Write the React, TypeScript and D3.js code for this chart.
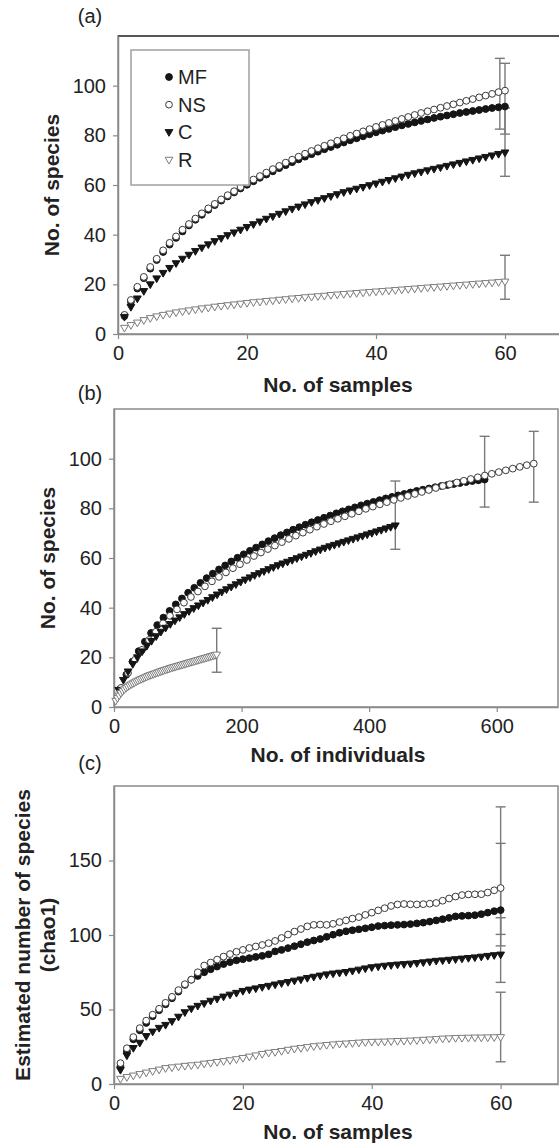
import { useEffect, useRef } from "react";
import * as d3 from "d3";

// ---- data ----
const SERIES = ["MF", "NS", "C", "R"];
const SAMPLES = d3.range(1, 61);
// total individuals per habitat (panel b end points)
const TOTAL_INDIVIDUALS = [581, 658, 441, 161];

// observed species (sample-based rarefaction), samples 1..60
const MF_OBS = [
  7.2, 13, 18.3, 22.5, 26.3, 29.8, 33, 36, 38.7, 41.3,
  43.7, 46, 48, 50, 51.9, 53.7, 55.4, 57, 58.6, 60.1,
  61.5, 62.9, 64.2, 65.5, 66.8, 68, 69.2, 70.3, 71.4, 72.4,
  73.4, 74.4, 75.3, 76.2, 77.1, 78, 78.8, 79.6, 80.4, 81.2,
  81.9, 82.6, 83.3, 84, 84.6, 85.2, 85.8, 86.4, 87, 87.5,
  88, 88.5, 89, 89.4, 89.8, 90.2, 90.6, 91, 91.3, 91.6,
];
const NS_OBS = [
  7.7, 13.7, 19, 23, 27, 30.3, 33.7, 36.7, 39.3, 42,
  44.3, 46.5, 48.6, 50.6, 52.4, 54.2, 55.9, 57.5, 59.2, 60.8,
  62.2, 63.6, 65, 66.4, 67.7, 69, 70.2, 71.4, 72.6, 73.7,
  74.8, 75.8, 76.8, 77.8, 78.8, 79.8, 80.7, 81.6, 82.5, 83.4,
  84.2, 85, 85.8, 86.6, 87.4, 88.2, 89, 89.7, 90.4, 91.1,
  91.8, 92.5, 93.2, 93.9, 94.6, 95.3, 96, 96.7, 97.4, 98,
];
const C_OBS = [
  6.8, 10.8, 14.2, 17.2, 19.9, 22.3, 24.5, 26.5, 28.4, 30.2,
  31.8, 33.3, 34.7, 36, 37.3, 38.5, 39.7, 40.8, 41.9, 43,
  44.1, 45.2, 46.3, 47.3, 48.3, 49.3, 50.3, 51.2, 52.1, 53,
  53.8, 54.6, 55.4, 56.2, 57, 57.7, 58.4, 59.1, 59.8, 60.5,
  61.2, 61.9, 62.6, 63.3, 64, 64.6, 65.2, 65.8, 66.4, 67,
  67.6, 68.2, 68.8, 69.4, 70, 70.6, 71.2, 71.8, 72.4, 73,
];
const R_OBS = [
  2.4, 3.5, 4.5, 5.5, 6.3, 7, 7.6, 8.1, 8.6, 9,
  9.4, 9.8, 10.2, 10.5, 10.9, 11.2, 11.5, 11.8, 12.1, 12.4,
  12.7, 12.9, 13.2, 13.4, 13.7, 13.9, 14.2, 14.4, 14.7, 14.9,
  15.1, 15.3, 15.6, 15.8, 16, 16.2, 16.4, 16.6, 16.8, 17,
  17.2, 17.4, 17.6, 17.8, 18, 18.2, 18.4, 18.6, 18.8, 19,
  19.2, 19.4, 19.6, 19.8, 20, 20.2, 20.4, 20.6, 20.8, 21,
];

// chao1 estimates, samples 1..60
const MF_CHAO = [
  12, 22, 30, 36, 41, 45.5, 49.5, 53.5, 57.5, 62,
  66.5, 70, 72.5, 75, 77, 78.8, 80.5, 81.8, 83, 83.8,
  84.5, 85.3, 86, 87, 89, 90, 91.2, 92.5, 93.8, 95.2,
  96.3, 97.3, 98.8, 100.2, 101.5, 102.5, 103.2, 103.8, 104.5, 105.2,
  106, 106.3, 106.6, 106.8, 107, 107.3, 107.8, 108.3, 109, 109.8,
  110.6, 111.5, 112.5, 112.8, 113, 113.3, 114, 115, 116, 116.7,
];
const NS_CHAO = [
  14, 24, 31.5, 37.5, 42.5, 46.5, 50.5, 54.5, 58.5, 63,
  67, 70, 75, 79.5, 81.5, 83.5, 85.5, 87.2, 88.7, 90,
  91.3, 92.3, 93.3, 94.5, 96, 98, 100.3, 102.3, 104, 105.8,
  106.8, 107, 106.8, 107.5, 108.7, 109.8, 111, 112, 113.5, 115,
  116.5, 118, 119.5, 120.5, 120.8, 120.6, 120.5, 120.7, 121, 121.5,
  123, 124.5, 125.8, 126.8, 127.2, 127.3, 127.4, 128.5, 130, 131.5,
];
const C_CHAO = [
  9.3, 19, 24, 27.5, 32, 35, 37.5, 39.5, 42, 45,
  48, 50.5, 52.3, 54, 55.7, 57, 58.5, 59.8, 61, 62.3,
  63.2, 64, 64.9, 65.7, 66.6, 67.5, 68.3, 69.2, 70, 71,
  71.8, 72.6, 73.4, 74, 74.5, 75, 75.8, 76.6, 77.4, 78.2,
  78.7, 79.2, 79.6, 80, 80.3, 80.6, 81, 81.5, 82, 82.5,
  82.8, 83.2, 83.6, 84, 84.4, 84.8, 85.3, 85.8, 86.3, 86.7,
];
const R_CHAO = [
  3.3, 4.5, 5.5, 6.5, 7.5, 8.5, 9.5, 10.5, 11, 11.5,
  12, 12.4, 12.8, 13.5, 14, 14.6, 15.2, 15.8, 16.5, 17.3,
  18.2, 19, 20, 20.8, 21.3, 22, 22.8, 23.5, 24, 24.6,
  25.2, 25.6, 26, 26.4, 26.8, 27, 27.3, 27.6, 27.9, 28.1,
  28.2, 28.3, 28.5, 28.7, 28.8, 29, 29.2, 29.5, 29.7, 30,
  30.3, 30.5, 30.7, 30.8, 30.9, 31, 31, 31.1, 31.2, 31.3,
];

// error bars at the last sample (MF, NS, C, R)
const OBS_ERR_SAMPLE = [60, 59.2, 60, 60];
const OBS_ERR_LO = [80.5, 82.5, 63.5, 14];
const OBS_ERR_HI = [109, 111, 91, 31.7];
const CHAO_ERR_LO = [92.7, 100.4, 68.2, 14.9];
const CHAO_ERR_HI = [161.5, 186, 111.6, 61.6];

const X_TICKS_SAMPLES = [0, 20, 40, 60];
const X_TICKS_INDIVIDUALS = [0, 200, 400, 600];
const Y_TICKS_OBS = [0, 20, 40, 60, 80, 100];
const Y_TICKS_CHAO = [0, 50, 100, 150];

const FONT = '"Liberation Sans", Arial, Helvetica, sans-serif';
const AXIS = "#8a8a8a";
const STYLE = [
  { shape: "circle", fill: "#151515", stroke: "#151515" },
  { shape: "circle", fill: "#ffffff", stroke: "#3a3a3a" },
  { shape: "triangle", fill: "#151515", stroke: "#151515" },
  { shape: "triangle", fill: "#ffffff", stroke: "#7c7c7c" },
];

const triPath = d3.symbol().type(d3.symbolTriangle).size(26)();

function drawMarkers(g, pts, st) {
  if (st.shape === "circle") {
    g.selectAll(null)
      .data(pts)
      .join("circle")
      .attr("cx", (d) => d[0])
      .attr("cy", (d) => d[1])
      .attr("r", 3.4)
      .attr("fill", st.fill)
      .attr("stroke", st.stroke)
      .attr("stroke-width", 1);
  } else {
    g.selectAll(null)
      .data(pts)
      .join("path")
      .attr("d", triPath)
      .attr("transform", (d) => `translate(${d[0]},${d[1] - 0.5}) rotate(180)`)
      .attr("fill", st.fill)
      .attr("stroke", st.stroke)
      .attr("stroke-width", 1);
  }
}

function drawPanel(svg, p) {
  const g = svg.append("g");
  const x = d3.scaleLinear().domain(p.xDomain).range([p.box.left, p.box.right]);
  const y = d3.scaleLinear().domain(p.yDomain).range([p.box.bottom, p.box.top]);

  // frame
  g.append("rect")
    .attr("x", p.box.left)
    .attr("y", p.box.top)
    .attr("width", p.box.right - p.box.left)
    .attr("height", p.box.bottom - p.box.top)
    .attr("fill", "#fff")
    .attr("stroke", AXIS)
    .attr("stroke-width", 1.5);
  if (p.darkTop) {
    g.append("line")
      .attr("x1", p.box.left)
      .attr("x2", p.box.right)
      .attr("y1", p.box.top)
      .attr("y2", p.box.top)
      .attr("stroke", "#3c3c3c")
      .attr("stroke-width", 1.5);
  }

  // axes
  const yAxis = g
    .append("g")
    .attr("transform", `translate(${p.box.left},0)`)
    .call(d3.axisLeft(y).tickValues(p.yTicks).tickSize(5).tickSizeOuter(0).tickPadding(7));
  const xAxis = g
    .append("g")
    .attr("transform", `translate(0,${p.box.bottom})`)
    .call(d3.axisBottom(x).tickValues(p.xTicks).tickSize(5).tickSizeOuter(0).tickPadding(7));
  [xAxis, yAxis].forEach((a) => {
    a.attr("font-size", 20).attr("font-family", FONT);
    a.select(".domain").attr("stroke", AXIS).attr("stroke-width", 1.5);
    a.selectAll(".tick line").attr("stroke", AXIS).attr("stroke-width", 1.2);
    a.selectAll(".tick text").attr("fill", "#222");
  });

  // error bars
  const eb = g.append("g").attr("stroke", "#7a7a7a").attr("stroke-width", 1.4);
  p.err.forEach(([ex, lo, hi]) => {
    const cx = x(ex);
    eb.append("line").attr("x1", cx).attr("x2", cx).attr("y1", y(lo)).attr("y2", y(hi));
    [lo, hi].forEach((v) =>
      eb.append("line").attr("x1", cx - 5).attr("x2", cx + 5).attr("y1", y(v)).attr("y2", y(v))
    );
  });

  // series, Excel order: later series on top
  p.series.forEach((s, k) => {
    const pts = s.xs.map((xv, i) => [x(xv), y(s.ys[i])]);
    drawMarkers(g.append("g"), pts, STYLE[k]);
  });

  // labels
  g.append("text")
    .attr("x", 90)
    .attr("y", p.tagY)
    .attr("text-anchor", "middle")
    .attr("font-family", FONT)
    .attr("font-size", 20)
    .attr("fill", "#222")
    .text(p.tag);
  g.append("text")
    .attr("x", 338)
    .attr("y", p.xTitleY)
    .attr("text-anchor", "middle")
    .attr("font-family", FONT)
    .attr("font-size", 21)
    .attr("font-weight", "bold")
    .attr("fill", "#222")
    .text(p.xTitle);
  p.yTitle.forEach(([tx, txt]) => {
    g.append("text")
      .attr("transform", `translate(${tx},${p.yTitleCenter}) rotate(-90)`)
      .attr("text-anchor", "middle")
      .attr("font-family", FONT)
      .attr("font-size", 21)
      .attr("font-weight", "bold")
      .attr("fill", "#222")
      .text(txt);
  });
  return g;
}

export default function App() {
  const ref = useRef(null);

  useEffect(() => {
    const svg = d3.select(ref.current);
    svg.selectAll("*").remove();

    const obs = [MF_OBS, NS_OBS, C_OBS, R_OBS];
    const chao = [MF_CHAO, NS_CHAO, C_CHAO, R_CHAO];

    // (a) observed vs samples
    const a = drawPanel(svg, {
      box: { left: 118, top: 36, right: 569.5, bottom: 334 },
      xDomain: [0, 70],
      yDomain: [0, 120],
      xTicks: X_TICKS_SAMPLES,
      yTicks: Y_TICKS_OBS,
      darkTop: true,
      series: obs.map((ys) => ({ xs: SAMPLES, ys })),
      err: SERIES.map((_, k) => [OBS_ERR_SAMPLE[k], OBS_ERR_LO[k], OBS_ERR_HI[k]]),
      tag: "(a)",
      tagY: 23,
      xTitle: "No. of samples",
      xTitleY: 392,
      yTitle: [[59, "No. of species"]],
      yTitleCenter: 185,
    });

    // legend
    const lg = a.append("g");
    lg.append("rect")
      .attr("x", 131)
      .attr("y", 50)
      .attr("width", 118)
      .attr("height", 135)
      .attr("fill", "#fff")
      .attr("stroke", "#a0a0a0")
      .attr("stroke-width", 1.5);
    const ly = d3.scalePoint().domain(SERIES).range([77, 160]);
    SERIES.forEach((name, k) => {
      drawMarkers(lg.append("g"), [[169, ly(name)]], STYLE[k]);
      lg.append("text")
        .attr("x", 178)
        .attr("y", ly(name) + 7)
        .attr("font-family", FONT)
        .attr("font-size", 20)
        .attr("fill", "#222")
        .text(name);
    });

    // (b) observed vs individuals
    drawPanel(svg, {
      box: { left: 114, top: 409, right: 558, bottom: 707 },
      xDomain: [0, 696],
      yDomain: [0, 120],
      xTicks: X_TICKS_INDIVIDUALS,
      yTicks: Y_TICKS_OBS,
      series: obs.map((ys, k) => ({
        xs: SAMPLES.map((s) => (s * TOTAL_INDIVIDUALS[k]) / SAMPLES.length),
        ys,
      })),
      err: SERIES.map((_, k) => [TOTAL_INDIVIDUALS[k], OBS_ERR_LO[k], OBS_ERR_HI[k]]),
      tag: "(b)",
      tagY: 400,
      xTitle: "No. of individuals",
      xTitleY: 762,
      yTitle: [[55, "No. of species"]],
      yTitleCenter: 558,
    });

    // (c) chao1 vs samples
    drawPanel(svg, {
      box: { left: 114, top: 786, right: 558, bottom: 1084 },
      xDomain: [0, 68.9],
      yDomain: [0, 200],
      xTicks: X_TICKS_SAMPLES,
      yTicks: Y_TICKS_CHAO,
      series: chao.map((ys) => ({ xs: SAMPLES, ys })),
      err: SERIES.map((_, k) => [60, CHAO_ERR_LO[k], CHAO_ERR_HI[k]]),
      tag: "(c)",
      tagY: 770,
      xTitle: "No. of samples",
      xTitleY: 1139,
      yTitle: [
        [30, "Estimated number of species"],
        [55, "(chao1)"],
      ],
      yTitleCenter: 935,
    });
  }, []);

  return (
    <svg
      ref={ref}
      width={559}
      height={1144}
      style={{ position: "absolute", left: 0, top: 0, background: "#fff" }}
    />
  );
}
